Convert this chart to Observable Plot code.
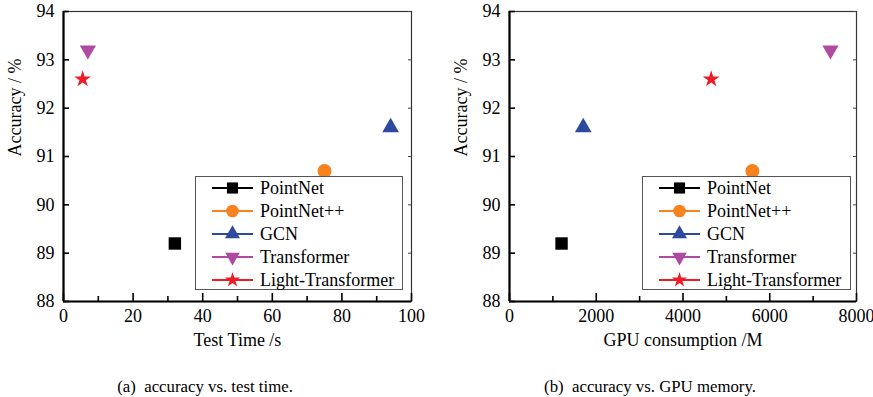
<!DOCTYPE html>
<html>
<head>
<meta charset="utf-8">
<script src="https://cdn.jsdelivr.net/npm/d3@7"></script>
<script src="https://cdn.jsdelivr.net/npm/@observablehq/plot@0.6"></script>
<style>
  html, body { margin: 0; padding: 0; background: #fff; }
  #root { position: relative; width: 873px; height: 397px; font-family: "Liberation Serif", "DejaVu Serif", serif; color: #000; }
  .panel { position: absolute; top: 0; }
  .legend { position: absolute; box-sizing: border-box; border: 1px solid #555; background: #fff; }
  .row { display: flex; align-items: center; height: 22.8px; font-size: 18px; line-height: 1; }
  .row svg { margin-left: 16px; margin-right: 7px; flex: none; }
  .caption { position: absolute; top: 377px; font-size: 16.8px; white-space: nowrap; transform: translateX(-50%); }
</style>
</head>
<body>
<div id="root"></div>
<script>
// ---- data ----
const models = ["PointNet", "PointNet++", "GCN", "Transformer", "Light-Transformer"];
const testTime = [32, 75, 94, 7, 5.5];          // s
const gpuMemory = [1200, 5600, 1700, 7400, 4650]; // M
const accuracy = [89.2, 90.7, 91.6, 93.2, 92.6];  // %
const colors = ["#000000", "#f7821e", "#2e4a9e", "#b04aa0", "#ee1c25"];
const yTicks = [88, 89, 90, 91, 92, 93, 94];
const xTicksA = [0, 20, 40, 60, 80, 100];
const xMinorA = [10, 30, 50, 70, 90];
const xTicksB = [0, 2000, 4000, 6000, 8000];
const xMinorB = [1000, 3000, 5000, 7000];

const FONT = "'Liberation Serif', 'DejaVu Serif', serif";

const triangleDown = {
  draw(ctx, size) {
    const y = -Math.sqrt(size / (Math.sqrt(3) * 3));
    ctx.moveTo(0, -y * 2);
    ctx.lineTo(-Math.sqrt(3) * y, y);
    ctx.lineTo(Math.sqrt(3) * y, y);
    ctx.closePath();
  }
};
const symbols = [d3.symbolSquare, d3.symbolCircle, d3.symbolTriangle, triangleDown, d3.symbolStar];
const radii = [7, 7, 6.2, 6.0, 5.3];

const rowsA = models.map((m, i) => ({model: m, x: testTime[i], y: accuracy[i]}));
const rowsB = models.map((m, i) => ({model: m, x: gpuMemory[i], y: accuracy[i]}));

function panel({rows, xDomain, xTicks, xMinor, xLabel, width, marginLeft, marginRight}) {
  const marginTop = 11, marginBottom = 96, height = 397;
  const fw = width - marginLeft - marginRight;
  const fh = height - marginTop - marginBottom;
  const marks = [
    Plot.frame({stroke: "#333", strokeWidth: 1.2}),
    Plot.tickX(xTicks, {x: d => d, stroke: "#000", strokeWidth: 1.6, insetTop: fh - 8}),
    Plot.tickX(xMinor, {x: d => d, stroke: "#000", strokeWidth: 1.6, insetTop: fh - 5}),
    Plot.tickY(yTicks, {y: d => d, stroke: "#000", strokeWidth: 1.6, insetRight: fw - 6}),
    Plot.tickY(yTicks, {y: d => d, stroke: "#444", strokeWidth: 1, insetLeft: fw - 3}),
    Plot.ruleX([xDomain[0]], {stroke: "#000", strokeWidth: 2.2}),
    Plot.ruleY([yTicks[0]], {stroke: "#000", strokeWidth: 2.2}),
    Plot.axisX({ticks: xTicks, tickSize: 0, tickPadding: 8, label: null, tickFormat: d => String(d), fontFamily: FONT}),
    Plot.axisY({ticks: yTicks, tickSize: 0, tickPadding: 9, label: null, tickFormat: d => String(d), fontFamily: FONT}),
    Plot.text([xLabel], {frameAnchor: "bottom", text: d => d, dy: 44, fontSize: 18, fontFamily: FONT}),
    Plot.text(["Accuracy / %"], {frameAnchor: "left", text: d => d, dx: -48, rotate: -90, fontSize: 18, fontFamily: FONT})
  ];
  rows.forEach((r, i) => {
    marks.push(Plot.dot([r], {x: "x", y: "y", symbol: symbols[i], fill: colors[i], r: radii[i], stroke: "none"}));
  });
  return Plot.plot({
    width, height, marginTop, marginBottom, marginLeft, marginRight,
    style: {fontFamily: FONT, fontSize: "18px", color: "#000", background: "transparent", overflow: "visible"},
    x: {domain: xDomain},
    y: {domain: [yTicks[0], yTicks[yTicks.length - 1]]},
    marks
  });
}

function legend(left, width) {
  const div = document.createElement("div");
  div.className = "legend";
  div.style.left = left + "px";
  div.style.top = "176px";
  div.style.width = width + "px";
  div.style.height = "114px";
  models.forEach((m, i) => {
    const row = document.createElement("div");
    row.className = "row";
    const svg = d3.create("svg").attr("width", 41).attr("height", 20);
    svg.append("line").attr("x1", 0).attr("x2", 41).attr("y1", 10).attr("y2", 10)
      .attr("stroke", colors[i]).attr("stroke-width", 2);
    svg.append("path")
      .attr("transform", "translate(20.5,10)")
      .attr("d", d3.symbol().type(symbols[i]).size(Math.PI * (radii[i] * 0.9) ** 2)())
      .attr("fill", colors[i]);
    row.appendChild(svg.node());
    const t = document.createElement("span");
    t.textContent = m;
    row.appendChild(t);
    div.appendChild(row);
  });
  return div;
}

const root = document.getElementById("root");
const a = panel({rows: rowsA, xDomain: [xTicksA[0], xTicksA[xTicksA.length - 1]], xTicks: xTicksA, xMinor: xMinorA,
  xLabel: "Test Time /s", width: 436, marginLeft: 63, marginRight: 25});
a.classList.add("panel"); a.style.left = "0px";
const b = panel({rows: rowsB, xDomain: [xTicksB[0], xTicksB[xTicksB.length - 1]], xTicks: xTicksB, xMinor: xMinorB,
  xLabel: "GPU consumption /M", width: 437, marginLeft: 73, marginRight: 17});
b.classList.add("panel"); b.style.left = "436px";
root.appendChild(a);
root.appendChild(b);
root.appendChild(legend(195, 208));
root.appendChild(legend(642, 209));

const capA = document.createElement("div");
capA.className = "caption"; capA.style.left = "205px";
capA.innerHTML = "(a)&nbsp;&nbsp;accuracy vs. test time.";
const capB = document.createElement("div");
capB.className = "caption"; capB.style.left = "650px";
capB.innerHTML = "(b)&nbsp;&nbsp;accuracy vs. GPU memory.";
root.appendChild(capA);
root.appendChild(capB);
</script>
</body>
</html>
